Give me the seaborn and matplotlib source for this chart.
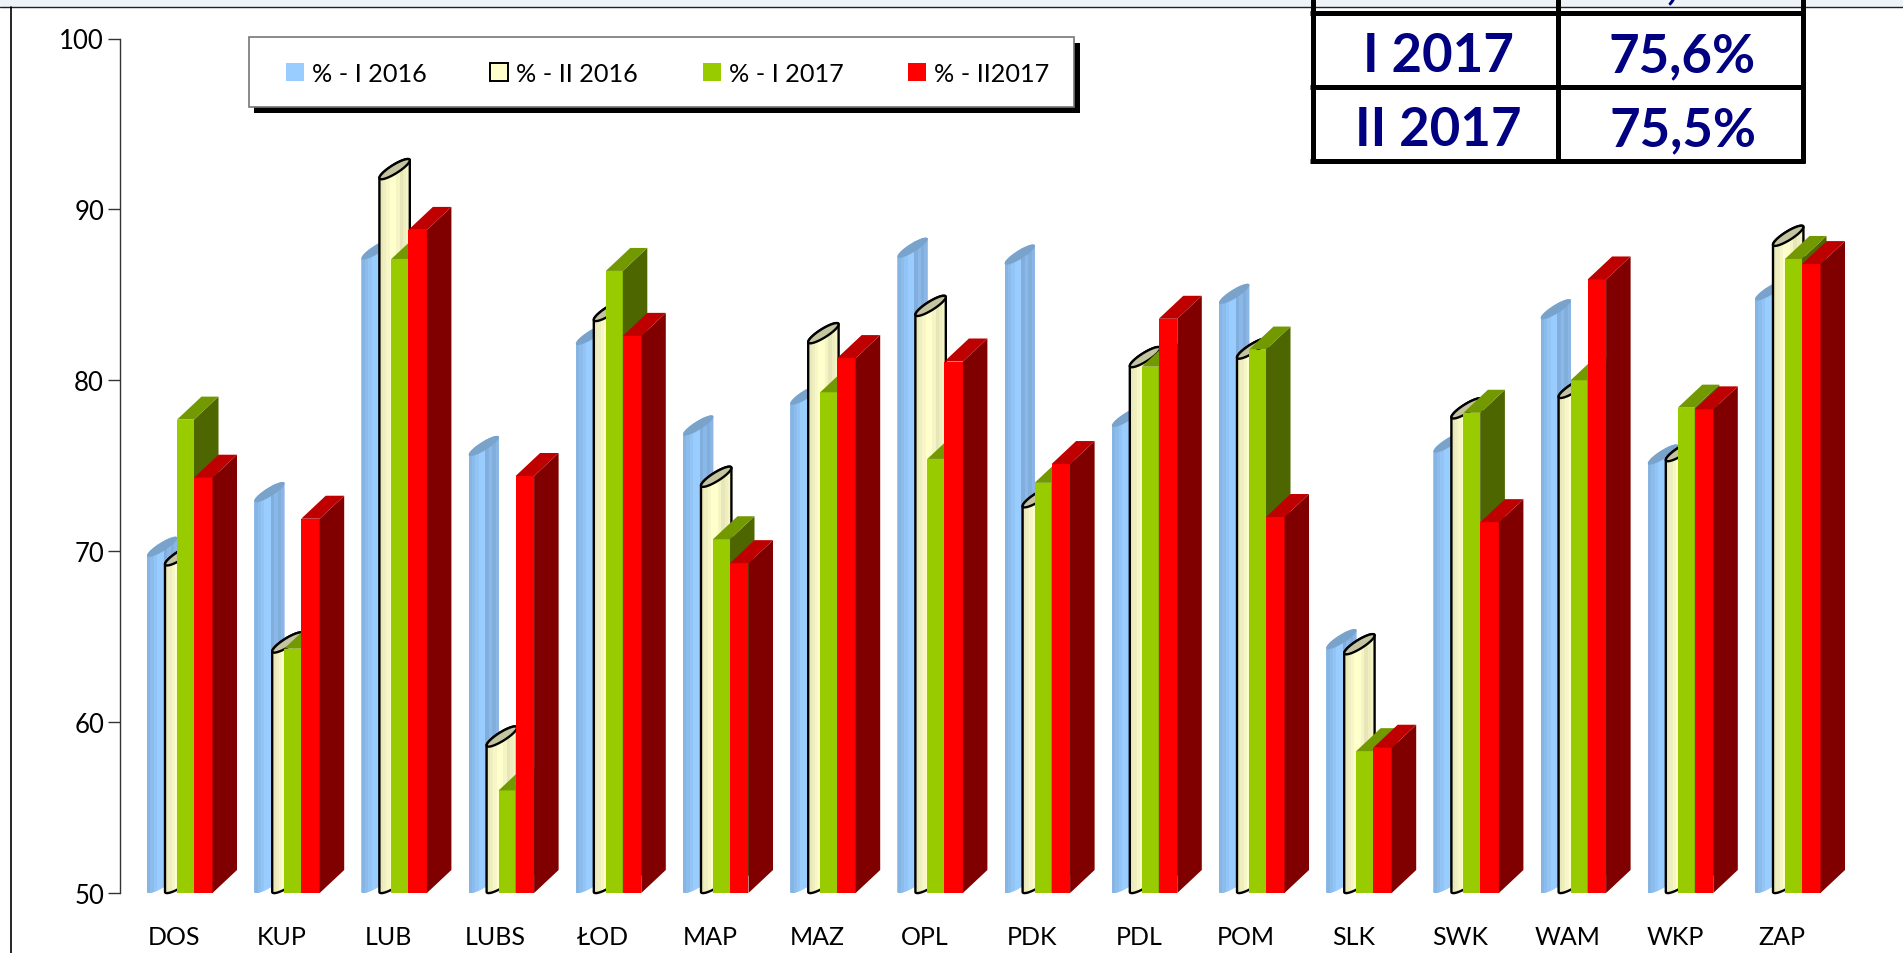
import numpy as np
import pandas as pd
import matplotlib
matplotlib.use("Agg")
import matplotlib.pyplot as plt
import seaborn as sns
from matplotlib.patches import Polygon, Rectangle, PathPatch
from matplotlib.path import Path
from matplotlib.transforms import ScaledTranslation

# data
regions = ['DOS', 'KUP', 'LUB', 'LUBS', 'ŁOD', 'MAP', 'MAZ', 'OPL',
           'PDK', 'PDL', 'POM', 'SLK', 'SWK', 'WAM', 'WKP', 'ZAP']
series_names = ['% - I 2016', '% - II 2016', '% - I 2017', '% - II2017']
i_2016 = [69.7, 72.9, 87.1, 75.6, 82.1, 76.8, 78.6, 87.2, 86.8, 77.3, 84.5, 64.3, 75.8, 83.6, 75.1, 84.7]
ii_2016 = [69.2, 64.1, 91.8, 58.6, 83.5, 73.8, 82.2, 83.8, 72.6, 80.8, 81.3, 64.0, 77.8, 79.0, 75.3, 87.9]
i_2017 = [77.7, 64.3, 87.1, 56.0, 86.4, 70.7, 79.3, 75.4, 74.0, 80.8, 81.8, 58.3, 78.1, 80.0, 78.4, 87.1]
ii_2017 = [74.3, 71.9, 88.8, 74.4, 82.6, 69.3, 81.3, 81.1, 75.1, 83.6, 72.0, 58.5, 71.7, 85.9, 78.3, 86.8]
table_rows = ['I 2017', 'II 2017']
table_values = ['75,6%', '75,5%']

# pixel geometry of the plot
W, H = 1903, 954
AX_L, AX_R, AX_T, AX_B = 120, 1880, 39.5, 894
FIRST_CAT = 179.5
PX_CAT = 107.2
PX_VAL = (AX_B - AX_T) / 50.0
BAR_START = [-32.5, -14.5, -2.5, 14.5]
BAR_W = [18, 18, 17, 18.5]
BOX_DX, BOX_DY = 24.5, 23

FONT = ['Lato', 'DejaVu Sans']
sns.set_theme(style="white")
plt.rcParams['font.family'] = FONT

df = pd.DataFrame({
    'Region': regions,
    series_names[0]: i_2016,
    series_names[1]: ii_2016,
    series_names[2]: i_2017,
    series_names[3]: ii_2017,
}).melt(id_vars='Region', var_name='Series', value_name='Value')

front = ['#99ccff', '#ffffcc', '#99cc00', '#ff0000']
side = [None, None, '#4d6600', '#800000']
top = ['#7aa3cc', '#c4c4a0', '#739900', '#bf0000']
strips = [
    ['#86b4e3', '#8cbcec', '#92c4f6', '#99ccff', '#99ccff', '#82aedd', '#8ab8e8', '#82aedd', '#8ab5e4'],
    ['#e8e8b8', '#eeeebe', '#f6f6c6', '#ffffcc', '#ffffcc', '#f4f4c4', '#e6e6b8', '#eeeebe', '#f4f4c6'],
]

fig = plt.figure(figsize=(W / 100, H / 100), dpi=100, facecolor='white')
ax = fig.add_axes([AX_L / W, 1 - AX_B / H, (AX_R - AX_L) / W, (AX_B - AX_T) / H])

sns.barplot(data=df, x='Region', y='Value', hue='Series', hue_order=series_names,
            palette=front, width=0.66, legend=False, ax=ax, saturation=1)

ax.set_ylim(50, 100)
ax.set_xlim((AX_L - FIRST_CAT) / PX_CAT, (AX_R - FIRST_CAT) / PX_CAT)
ax.set_xlabel('')
ax.set_ylabel('')
ax.set_yticks([50, 60, 70, 80, 90, 100])
ax.patch.set_alpha(0)


def cylinder(cat, k, value):
    # tilted cylinder, the top is an ellipse leaning up and right
    ax_x, ax_y, bx, by = 15.0, 9.5, -2.5, 3.5
    start = BAR_START[k]
    half = np.hypot(ax_x, bx)
    cx = cat + (start + half) / PX_CAT
    t_r = np.arctan2(bx, ax_x)

    def ring(t, yc):
        return np.column_stack([cx + (ax_x * np.cos(t) + bx * np.sin(t)) / PX_CAT,
                                yc + (ax_y * np.cos(t) + by * np.sin(t)) / PX_VAL])

    y_top = value + 9.5 / PX_VAL
    y_base = 50 + 10 / PX_VAL
    upper = ring(np.linspace(t_r, t_r + np.pi, 30), y_top)
    lower = ring(np.linspace(t_r + np.pi, t_r + 2 * np.pi, 30), y_base)
    pts = np.vstack([upper, lower, upper[:1]])
    outline = k == 1
    silh = PathPatch(Path(pts), facecolor='none', edgecolor='black' if outline else 'none',
                     lw=1.7, zorder=3 + k + 0.3, clip_on=False)
    ax.add_patch(silh)

    cols = strips[k]
    sw = 2 * half / len(cols)
    for j, c in enumerate(cols):
        r = Rectangle((cat + (start + j * sw) / PX_CAT, 50), (sw + 0.5) / PX_CAT,
                      value + 25 / PX_VAL - 50, facecolor=c, edgecolor='none', zorder=3 + k + 0.1)
        ax.add_patch(r)
        r.set_clip_path(silh)

    cap = Polygon(ring(np.linspace(0, 2 * np.pi, 60), y_top), closed=True, facecolor=top[k],
                  edgecolor='black' if outline else 'none', lw=1.7, zorder=3 + k + 0.4, clip_on=False)
    ax.add_patch(cap)
    return silh


def box_faces(x0, x1, value, k):
    dx = BOX_DX / PX_CAT
    dy = BOX_DY / PX_VAL
    ax.add_patch(Polygon([(x1, 50), (x1 + dx, 50 + dy), (x1 + dx, value + dy), (x1, value)],
                         closed=True, facecolor=side[k], edgecolor='none', zorder=3 + k + 0.1))
    ax.add_patch(Polygon([(x0, value), (x1, value), (x1 + dx, value + dy), (x0 + dx, value + dy)],
                         closed=True, facecolor=top[k], edgecolor='none', zorder=3 + k + 0.2))


# seaborn draws the front faces, the 3D parts are added from those bars
for k, container in enumerate(ax.containers):
    for cat, bar in enumerate(container.patches):
        value = bar.get_height()
        x0 = cat + BAR_START[k] / PX_CAT
        bar.set_x(x0)
        bar.set_width(BAR_W[k] / PX_CAT)
        bar.set_zorder(3 + k)
        bar.set_edgecolor('none')
        if k < 2:
            bar.set_clip_path(cylinder(cat, k, value))
        else:
            box_faces(x0, x0 + BAR_W[k] / PX_CAT, value, k)

sns.despine(ax=ax, bottom=True)
ax.spines['left'].set_color('#333333')
ax.spines['left'].set_linewidth(1.0)
ax.tick_params(axis='y', left=True, length=8.5, width=1.0, color='#333333',
               labelsize=18.5, labelcolor='black', pad=3)
ax.tick_params(axis='x', bottom=False, labelsize=18, labelcolor='black', pad=0)
shift = ScaledTranslation(-5.5 / 100, -24 / 100, fig.dpi_scale_trans)
for lab in ax.get_xticklabels():
    lab.set_transform(lab.get_transform() + shift)

# overlay in pixel coordinates: window edge, legend box, table
ov = fig.add_axes([0, 0, 1, 1], zorder=10)
ov.set_xlim(0, W)
ov.set_ylim(H, 0)
ov.axis('off')

ov.add_patch(Rectangle((0, 0), W, 8, facecolor='#eef3f8', edgecolor='none'))
ov.plot([0, W], [8.2, 8.2], color='#222222', lw=1.0)
ov.plot([10.5, 10.5], [8, H], color='black', lw=1.2)

# legend
ov.add_patch(Rectangle((254, 44), 826, 70, facecolor='black', edgecolor='none'))
ov.add_patch(Rectangle((249, 37.5), 825, 70, facecolor='white', edgecolor='#777777', lw=1.2))
legend_x = [286, 490, 703, 908]
for k, name in enumerate(series_names):
    ec = 'black' if k == 1 else 'none'
    ov.add_patch(Rectangle((legend_x[k], 64), 17.5, 18, facecolor=front[k], edgecolor=ec, lw=1.4))
    ov.text(legend_x[k] + 26, 74, name, fontsize=18.2, color='black', va='center', ha='left')

# the table cut off by the top of the picture
navy = '#000080'
for y in [13.5, 87.5, 161.5]:
    ov.plot([1310, 1805], [y, y], color='black', lw=3.6, solid_capstyle='butt')
for x in [1312.5, 1557.5, 1802.5]:
    ov.plot([x, x], [0, 164], color='black', lw=3.6, solid_capstyle='butt')
for row, val, base in zip(table_rows, table_values, [72, 146]):
    ov.text(1438, base, row, fontsize=38, fontweight='bold', color=navy, ha='center', va='baseline')
    ov.text(1682.5, base, val, fontsize=38, fontweight='bold', color=navy, ha='center', va='baseline')
ov.text(1672, -3, ',', fontsize=38, fontweight='bold', color=navy, ha='center', va='baseline')

fig.savefig('out.png', dpi=100)
